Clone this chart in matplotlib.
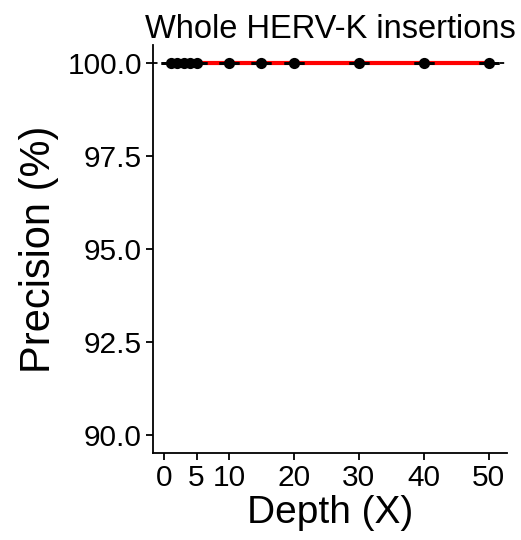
import matplotlib
matplotlib.use("Agg")
import matplotlib.pyplot as plt

depth = [1, 2, 3, 4, 5, 10, 15, 20, 30, 40, 50]
precision = [100.0, 100.0, 100.0, 100.0, 100.0, 100.0, 100.0, 100.0, 100.0, 100.0, 100.0]
xticks = [0, 5, 10, 20, 30, 40, 50]
yticks = [90.0, 92.5, 95.0, 97.5, 100.0]

plt.rcParams['font.family'] = ['Liberation Sans', 'DejaVu Sans']

fig = plt.figure(figsize=(5.21, 5.40), dpi=100)
ax = fig.add_axes([153/521, 1 - 453.3/540, (507 - 153)/521, (453.3 - 45)/540])

ax.axhline(100.0, color='black', linestyle=(0, (2.5, 3.5)), lw=1.3, zorder=1)
ax.plot(depth, precision, color='#ff0000', lw=3, zorder=2)
ax.errorbar(depth, precision, yerr=[0]*len(depth), fmt='none', ecolor='black',
            capsize=7, capthick=2, elinewidth=1.3, zorder=3)
ax.scatter(depth, precision, s=65, color='black', zorder=4, linewidths=0)

ax.set_xlim(-1.7, 52.8)
ax.set_ylim(89.52, 100.48)
ax.set_xticks(xticks)
ax.set_xticklabels([str(v) for v in xticks])
ax.set_yticks(yticks)
ax.set_yticklabels([f"{v:.1f}" for v in yticks])

for s in ['top', 'right']:
    ax.spines[s].set_visible(False)
for s in ['left', 'bottom']:
    ax.spines[s].set_linewidth(1.3)
ax.tick_params(axis='both', length=5, width=1.3, labelsize=21.5, color='black', labelcolor='black', pad=3)

ax.set_xlabel('Depth (X)', fontsize=28, labelpad=2)
ax.set_ylabel('Precision (%)', fontsize=30, labelpad=6)
ax.set_title('Whole HERV-K insertions', fontsize=23.5, pad=4)

fig.savefig('out.png', dpi=100)
